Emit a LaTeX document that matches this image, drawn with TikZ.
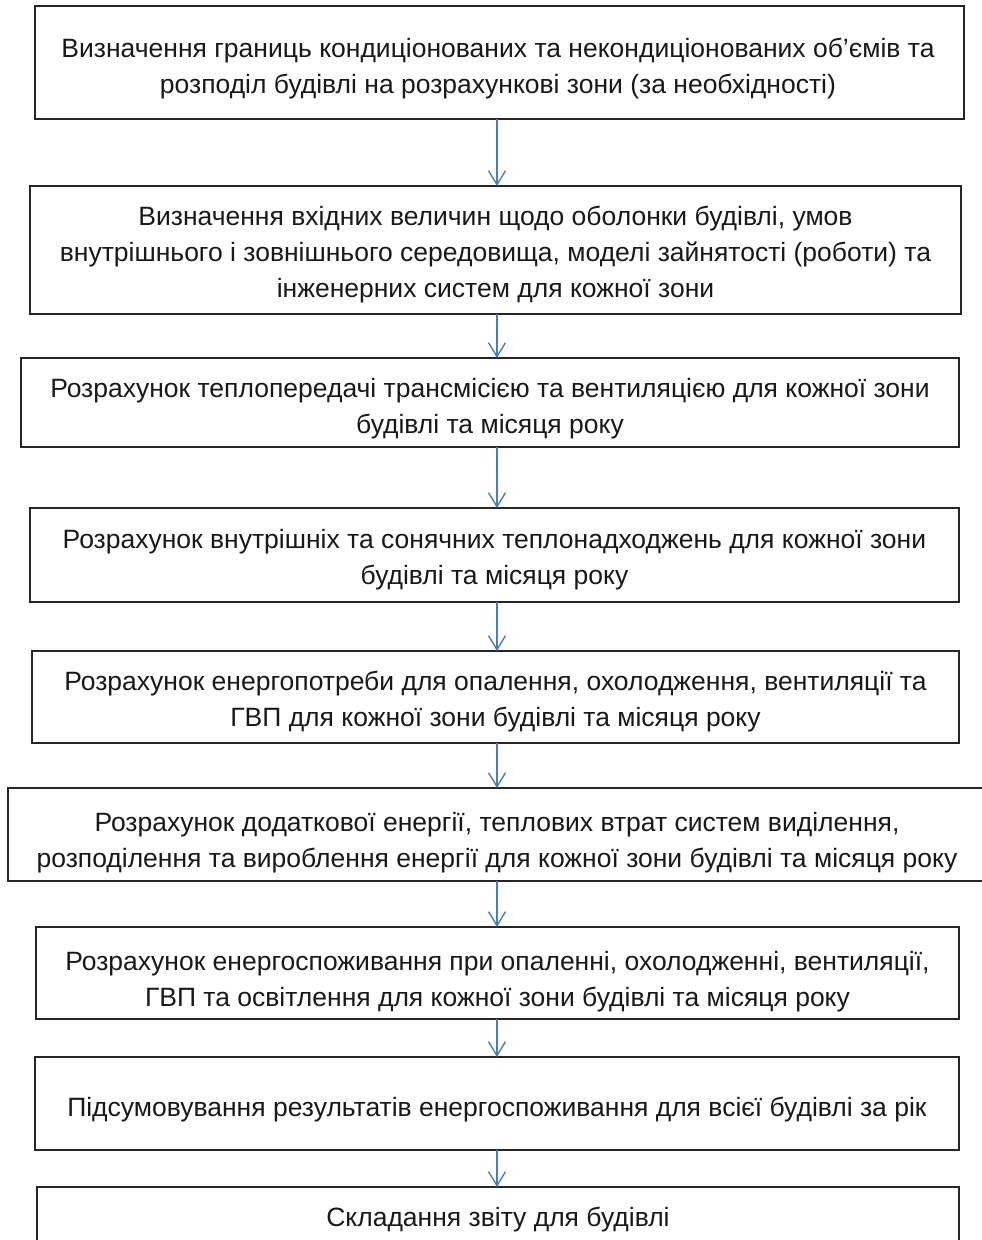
\documentclass[tikz,border=0pt]{standalone}
\usepackage{fontspec}
\setmainfont{Liberation Sans}
\usetikzlibrary{arrows.meta}
\definecolor{arrowblue}{HTML}{4A7EBB}
\begin{document}
\begin{tikzpicture}[x=1pt,y=-1pt,
  stepbox/.style={draw=black!85,line width=1.5pt,inner sep=0pt,outer sep=0pt},
  txt/.style={align=center,inner sep=0pt,font=\fontsize{26.5}{36}\selectfont,text=black!90},
  flow/.style={draw=arrowblue,line width=1.4pt,-{Straight Barb[length=14pt,width=17pt,line width=1.4pt]}}]
\useasboundingbox (0,0) rectangle (982,1240);
\fill[white] (0,0) rectangle (982,1240);
\coordinate (ax) at (497,0);
\node[stepbox,minimum width=929pt,minimum height=113pt] (b1) at (499.5,62.5) {};
\node[stepbox,minimum width=931pt,minimum height=128pt] (b2) at (495.5,250) {};
\node[stepbox,minimum width=938pt,minimum height=89pt] (b3) at (490,402.5) {};
\node[stepbox,minimum width=929pt,minimum height=94pt] (b4) at (494.5,555) {};
\node[stepbox,minimum width=927pt,minimum height=92pt] (b5) at (495.5,697) {};
\node[stepbox,minimum width=982pt,minimum height=93pt] (b6) at (499,834.5) {};
\node[stepbox,minimum width=923pt,minimum height=92pt] (b7) at (497.5,973) {};
\node[stepbox,minimum width=924pt,minimum height=93pt] (b8) at (497,1103.5) {};
\node[stepbox,minimum width=922pt,minimum height=73pt] (b9) at (498,1223.5) {};
\node[txt] (t1) at (498,68.5) {Визначення границь кондиціонованих та некондиціонованих об’ємів та\\розподіл будівлі на розрахункові зони (за необхідності)};
\node[txt] (t2) at (495.5,255) {Визначення вхідних величин щодо оболонки будівлі, умов\\внутрішнього і зовнішнього середовища, моделі зайнятості (роботи) та\\інженерних систем для кожної зони};
\node[txt] (t3) at (490,408.5) {Розрахунок теплопередачі трансмісією та вентиляцією для кожної зони\\будівлі та місяця року};
\node[txt] (t4) at (494.5,560) {Розрахунок внутрішніх та сонячних теплонадходжень для кожної зони\\будівлі та місяця року};
\node[txt] (t5) at (495.5,702) {Розрахунок енергопотреби для опалення, охолодження, вентиляції та\\ГВП для кожної зони будівлі та місяця року};
\node[txt] (t6) at (497,842.5) {Розрахунок додаткової енергії, теплових втрат систем виділення,\\розподілення та вироблення енергії для кожної зони будівлі та місяця року};
\node[txt] (t7) at (497.5,981.5) {Розрахунок енергоспоживання при опаленні, охолодженні, вентиляції,\\ГВП та освітлення для кожної зони будівлі та місяця року};
\node[txt] (t8) at (497,1110) {Підсумовування результатів енергоспоживання для всієї будівлі за рік};
\node[txt] (t9) at (498,1220) {Складання звіту для будівлі};
\draw[flow] (b1.south -| ax) -- (b2.north -| ax);
\draw[flow] (b2.south -| ax) -- (b3.north -| ax);
\draw[flow] (b3.south -| ax) -- (b4.north -| ax);
\draw[flow] (b4.south -| ax) -- (b5.north -| ax);
\draw[flow] (b5.south -| ax) -- (b6.north -| ax);
\draw[flow] (b6.south -| ax) -- (b7.north -| ax);
\draw[flow] (b7.south -| ax) -- (b8.north -| ax);
\draw[flow] (b8.south -| ax) -- (b9.north -| ax);
\end{tikzpicture}
\end{document}
